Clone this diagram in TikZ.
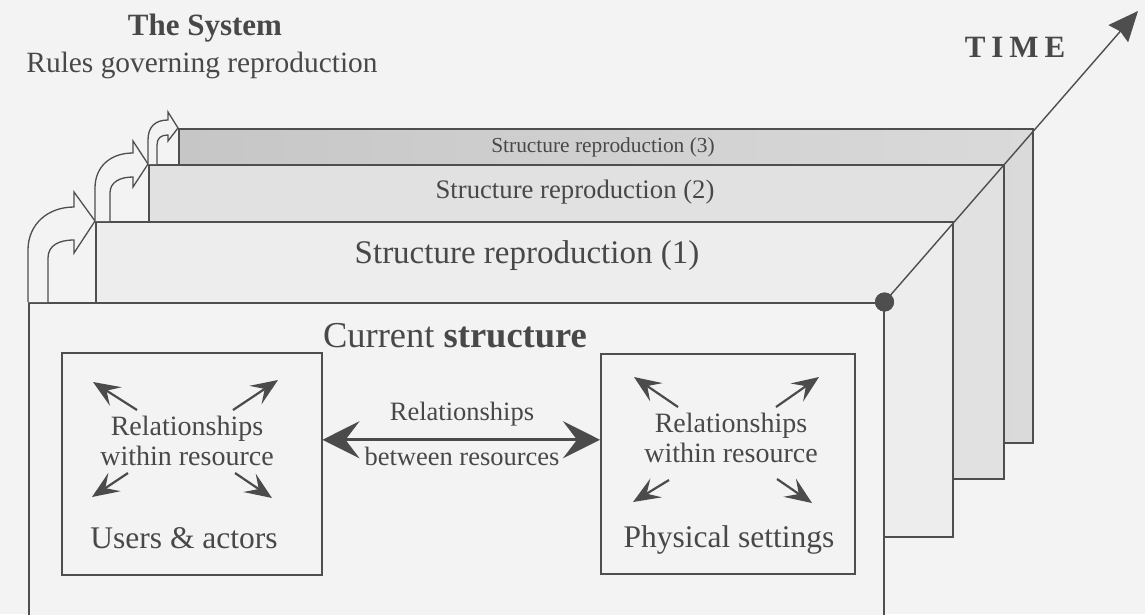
\documentclass[tikz,border=0pt]{standalone}
\usepackage{fontspec}
\setmainfont{Liberation Serif}
\newfontfamily\spacedbold[LetterSpace=19]{Liberation Serif}
\usetikzlibrary{arrows.meta}
\definecolor{bg}{RGB}{243,243,243}
\definecolor{ln}{RGB}{78,78,78}
\definecolor{tx}{RGB}{72,72,72}
\definecolor{layA}{RGB}{237,237,237}
\definecolor{layB}{RGB}{225,225,225}
\definecolor{layCa}{RGB}{198,198,198}
\definecolor{layCb}{RGB}{218,218,218}
\definecolor{arr}{RGB}{75,75,75}
\begin{document}
\begin{tikzpicture}[x=1pt,y=-1pt,
  frame/.style={draw=ln, line width=1.5pt, inner sep=0pt, anchor=north west},
  txt/.style={text=tx, inner sep=0pt, anchor=base},
  relarrow/.style={draw=arr, line width=2.2pt, -{Stealth[length=27pt,width=22pt,inset=11pt]}},
  bigarrow/.style={draw=arr, line width=3pt, {Stealth[length=37pt,width=37pt,inset=14pt]}-{Stealth[length=37pt,width=37pt,inset=14pt]}},
  timearrow/.style={draw=ln, line width=1.4pt, -{Stealth[length=30pt,width=26pt,inset=3pt]}},
  bentarrow/.style={draw=ln, line width=1.3pt, fill=bg, line join=miter},
]
\useasboundingbox (0,0) rectangle (1145,614);
\clip (0,0) rectangle (1145,614);
\fill[bg] (0,0) rectangle (1145,614);

% layers, back to front
\node[frame, left color=layCa, right color=layCb, minimum width=854pt, minimum height=314pt] (L3) at (178,128) {};
\node[frame, fill=layB, minimum width=855pt, minimum height=314pt] (L2) at (148,164) {};
\node[frame, fill=layA, minimum width=857pt, minimum height=315pt] (L1) at (95,221) {};
\node[frame, fill=bg, minimum width=855pt, minimum height=360pt] (main) at (28,302) {};

% layer labels
\node[txt, font=\fontsize{21.4}{24}\selectfont] (t3) at (603,152) {Structure reproduction (3)};
\node[txt, font=\fontsize{26.7}{30}\selectfont] (t2) at (575,198) {Structure reproduction (2)};
\node[txt, font=\fontsize{33}{36}\selectfont] (t1) at (527,263) {Structure reproduction (1)};
\node[txt, font=\fontsize{36.5}{40}\selectfont] (cur) at (455,347) {Current \textbf{structure}};

% titles
\node[txt, font=\fontsize{31}{34}\selectfont\bfseries] (sys) at (205,35) {The System};
\node[txt, font=\fontsize{29.4}{32}\selectfont] (rules) at (202,72) {Rules governing reproduction};
\node[txt, font=\fontsize{31}{34}\spacedbold\bfseries] (time) at (1015,57) {TIME};

% inner boxes
\node[frame, fill=bg, minimum width=260pt, minimum height=222pt] (ua) at (61,352) {};
\node[frame, fill=bg, minimum width=254pt, minimum height=220pt] (ps) at (600,353) {};

\node[txt, font=\fontsize{28}{31}\selectfont] (uarel) at (187,435) {Relationships};
\node[txt, font=\fontsize{28}{31}\selectfont] (uawit) at (187,465) {within resource};
\node[txt, font=\fontsize{31.5}{35}\selectfont] (ualab) at (184,548) {Users \& actors};

\node[txt, font=\fontsize{28}{31}\selectfont] (psrel) at (731,432) {Relationships};
\node[txt, font=\fontsize{28}{31}\selectfont] (pswit) at (731,462) {within resource};
\node[txt, font=\fontsize{31.5}{35}\selectfont] (pslab) at (729,547) {Physical settings};

\node[txt, font=\fontsize{26.5}{29}\selectfont] (brel) at (462,420) {Relationships};
\node[txt, font=\fontsize{26.5}{29}\selectfont] (bbet) at (462,465) {between resources};

% arrows within resources
\coordinate (a1s) at (137,410); \coordinate (a1e) at (93,382);
\coordinate (a2s) at (233,410); \coordinate (a2e) at (278,380);
\coordinate (a3s) at (128,473); \coordinate (a3e) at (92,497);
\coordinate (a4s) at (235,473); \coordinate (a4e) at (272,498);
\coordinate (b1s) at (678,407); \coordinate (b1e) at (634,377);
\coordinate (b2s) at (776,407); \coordinate (b2e) at (819,377);
\coordinate (b3s) at (669,480); \coordinate (b3e) at (633,502);
\coordinate (b4s) at (777,479); \coordinate (b4e) at (812,503);
\foreach \n in {a1,a2,a3,a4,b1,b2,b3,b4}
  \draw[relarrow] (\n s) -- (\n e);

% arrow between resources
\draw[bigarrow] ([yshift=24pt]ua.east) -- ([yshift=24pt]ps.west);

% time axis
\coordinate (timeend) at (1138,11);
\node[circle, fill=ln, minimum size=19pt, inner sep=0pt] (dot) at (main.north east) {};
\draw[timearrow] (dot.center) -- (timeend);
\fill[ln] (dot.center) circle (9.5pt);

% bent reproduction arrows
\draw[bentarrow] (28,302) -- (28,250) .. controls (28,224) and (48,207) .. (74,207)
  -- (74,192) -- (95,221) -- (74,253) -- (74,240)
  .. controls (58,240) and (48,246) .. (48,258) -- (48,302);
\draw[bentarrow] (95,221) -- (95,188) .. controls (95,167) and (110,153) .. (133,153)
  -- (133,141) -- (148,164) -- (133,187) -- (133,177)
  .. controls (120,177) and (110,182) .. (110,193) -- (110,221);
\draw[bentarrow] (148,164) -- (148,140) .. controls (148,127) and (155,120) .. (168,120)
  -- (168,112) -- (178,128) -- (168,141) -- (168,135)
  .. controls (161,135) and (157,138) .. (157,145) -- (157,164);
\end{tikzpicture}
\end{document}
